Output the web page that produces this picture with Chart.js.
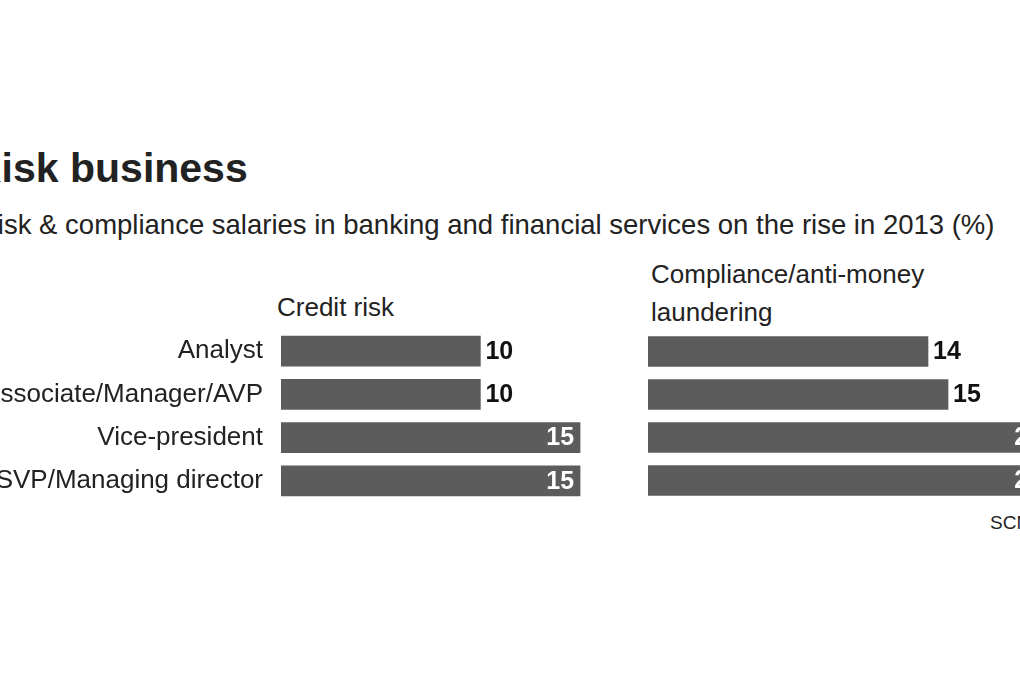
<!DOCTYPE html>
<html>
<head>
<meta charset="utf-8">
<script src="https://cdn.jsdelivr.net/npm/chart.js@4"></script>
<style>
  html, body { margin: 0; width: 1020px; height: 680px; overflow: hidden; background: #fff; }
  body { position: relative; font-family: "Liberation Sans", sans-serif; color: #222; }
  .txt { position: absolute; white-space: nowrap; }
  .box { position: absolute; overflow: hidden; }
</style>
</head>
<body>
<div class="txt" style="left:-28px;top:145px;font-size:41px;font-weight:bold;">Risk business</div>
<div class="txt" style="left:-22px;top:209px;font-size:27.5px;">Risk &amp; compliance salaries in banking and financial services on the rise in 2013 (%)</div>
<div class="txt" style="left:277px;top:292px;font-size:26px;">Credit risk</div>
<div class="txt" style="left:651px;top:255px;font-size:26px;line-height:38px;">Compliance/anti-money<br>laundering</div>
<div class="txt" style="left:990px;top:512px;font-size:19px;">SCMP</div>

<div class="box" style="left:-100px;top:304px;width:700px;height:224px;"><canvas id="creditChart"></canvas></div>
<div class="box" style="left:648px;top:330px;width:500px;height:172px;"><canvas id="complianceChart"></canvas></div>

<script>
// Data
const roles = ['Analyst', 'Associate/Manager/AVP', 'Vice-president', 'SVP/Managing director'];
const creditRisk = [10, 10, 15, 15];
const compliance = [14, 15, 20, 20];

const barColor = '#5c5c5c';

// Draw value labels: outside in black, or inside in white once the bar is long enough
const valueLabels = {
  id: 'valueLabels',
  afterDatasetsDraw(chart, args, opts) {
    const ctx = chart.ctx;
    const meta = chart.getDatasetMeta(0);
    ctx.save();
    ctx.font = 'bold 25px "Liberation Sans", sans-serif';
    ctx.textBaseline = 'middle';
    meta.data.forEach((bar, i) => {
      const v = chart.data.datasets[0].data[i];
      if (v >= opts.insideFrom) {
        ctx.fillStyle = '#fff';
        ctx.textAlign = 'right';
        ctx.fillText(v, bar.x - 6, bar.y + 1);
      } else {
        ctx.fillStyle = '#111';
        ctx.textAlign = 'left';
        ctx.fillText(v, bar.x + 5, bar.y + 1);
      }
    });
    ctx.restore();
  }
};

function makeChart(id, values, max, showLabels, insideFrom, axisWidth) {
  return new Chart(document.getElementById(id), {
    type: 'bar',
    data: {
      labels: roles,
      datasets: [{ data: values, backgroundColor: barColor, barThickness: 30 }]
    },
    options: {
      indexAxis: 'y',
      responsive: true,
      maintainAspectRatio: false,
      animation: false,
      layout: { padding: 0 },
      plugins: { legend: { display: false }, tooltip: { enabled: false }, valueLabels: { insideFrom } },
      scales: {
        x: { display: false, min: 0, max: max },
        y: {
          display: showLabels,
          grid: { display: false },
          border: { display: false },
          ticks: {
            color: '#222',
            padding: 10,
            font: { family: '"Liberation Sans", sans-serif', size: 26 }
          },
          afterFit: (scale) => { scale.width = axisWidth; }
        }
      }
    },
    plugins: [valueLabels]
  });
}

makeChart('creditChart', creditRisk, 16, true, 15, 381);
makeChart('complianceChart', compliance, 25, false, 20, 0);
</script>
</body>
</html>
